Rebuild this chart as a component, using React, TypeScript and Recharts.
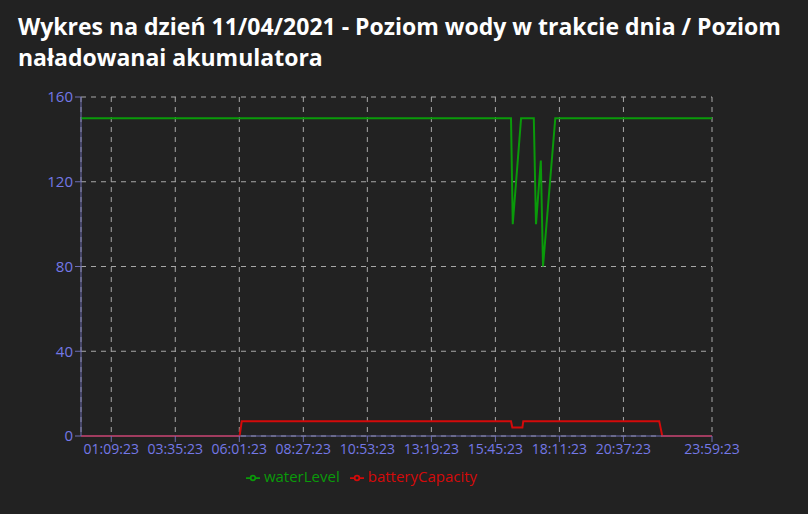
import React from "react";
import {
  LineChart,
  Line,
  XAxis,
  YAxis,
  CartesianGrid,
  Legend,
} from "recharts";

// key points (time of day, value)
const WATER_TIMES = [
  "00:00:23", "16:21:00", "16:25:00", "16:44:00", "17:13:00",
  "17:18:00", "17:29:00", "17:34:00", "18:02:00", "23:59:23",
];
const WATER_LEVEL = [150, 150, 100, 150, 150, 100, 130, 80, 150, 150];

const BATTERY_TIMES = [
  "00:00:23", "06:02:00", "06:07:00", "16:21:00", "16:24:00",
  "16:47:00", "16:49:00", "21:59:00", "22:06:00", "23:59:23",
];
const BATTERY_CAPACITY = [0, 0, 7, 7, 4, 4, 7, 7, 0, 0];

const X_TICKS = [
  "01:09:23", "03:35:23", "06:01:23", "08:27:23", "10:53:23",
  "13:19:23", "15:45:23", "18:11:23", "20:37:23", "23:59:23",
];
const Y_TICKS = [0, 40, 80, 120, 160];

const toSec = (s: string) => {
  const [h, m, sec] = s.split(":").map(Number);
  return h * 3600 + m * 60 + sec;
};

const pad = (n: number) => String(n).padStart(2, "0");
const fmtTime = (v: number) =>
  `${pad(Math.floor(v / 3600))}:${pad(Math.floor((v % 3600) / 60))}:${pad(v % 60)}`;

const allTimes = Array.from(
  new Set([...WATER_TIMES, ...BATTERY_TIMES].map(toSec))
).sort((a, b) => a - b);

const chartData = allTimes.map((t) => {
  const row: any = { t };
  const wi = WATER_TIMES.map(toSec).indexOf(t);
  const bi = BATTERY_TIMES.map(toSec).indexOf(t);
  if (wi >= 0) row.waterLevel = WATER_LEVEL[wi];
  if (bi >= 0) row.batteryCapacity = BATTERY_CAPACITY[bi];
  return row;
});

const SERIES_ORDER = ["waterLevel", "batteryCapacity"];

const AXIS_COLOR = "#6e6eb4";
const TICK_COLOR = "#7478e6";

export default function App() {
  return (
    <div
      style={{
        position: "fixed",
        inset: 0,
        background: "#222222",
        fontFamily: "'Open Sans', 'Noto Sans', sans-serif",
      }}
    >
      <div
        style={{
          position: "absolute",
          left: 18,
          top: 11,
          width: 790,
          color: "#ffffff",
          fontWeight: 700,
          fontSize: 23,
          lineHeight: "31px",
          whiteSpace: "nowrap",
        }}
      >
        Wykres na dzień 11/04/2021 - Poziom wody w trakcie dnia / Poziom
        <br />
        naładowanai akumulatora
      </div>
      <div style={{ position: "absolute", left: 0, top: 80 }}>
        <LineChart
          width={740}
          height={411}
          data={chartData}
          margin={{ top: 17, right: 28, left: 21, bottom: 5 }}
        >
          <CartesianGrid stroke="#a8a8a8" strokeDasharray="5 5" />
          <XAxis
            dataKey="t"
            type="number"
            domain={[toSec("00:00:23"), toSec("23:59:23")]}
            ticks={X_TICKS.map(toSec)}
            tickFormatter={fmtTime}
            stroke={AXIS_COLOR}
            tick={{ fill: TICK_COLOR, fontSize: 14 }}
            height={30}
          />
          <YAxis
            domain={[0, 160]}
            ticks={Y_TICKS}
            stroke={AXIS_COLOR}
            tick={{ fill: TICK_COLOR, fontSize: 15 }}
            width={60}
          />
          <Legend
            wrapperStyle={{ fontSize: 15 }}
            itemSorter={(item: any) => SERIES_ORDER.indexOf(item.dataKey)}
          />
          <Line
            type="linear"
            dataKey="waterLevel"
            stroke="#0a9a0a"
            strokeWidth={2}
            dot={false}
            connectNulls
            isAnimationActive={false}
          />
          <Line
            type="linear"
            dataKey="batteryCapacity"
            stroke="#d40a0a"
            strokeWidth={2}
            dot={false}
            connectNulls
            isAnimationActive={false}
          />
        </LineChart>
      </div>
    </div>
  );
}
